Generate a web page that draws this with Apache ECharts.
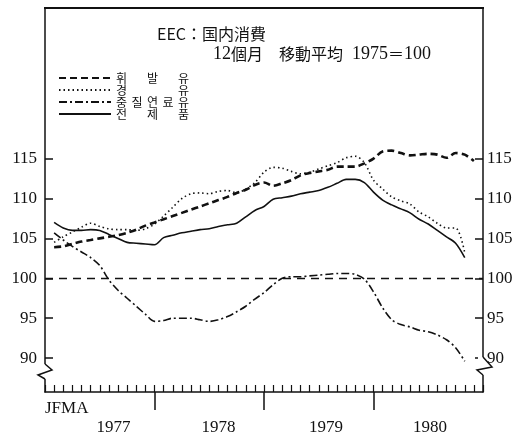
<!DOCTYPE html>
<html>
<head>
<meta charset="utf-8">
<script src="https://cdn.jsdelivr.net/npm/echarts@6/dist/echarts.min.js"></script>
<style>
html,body{margin:0;padding:0;background:#fff;}
#c{width:530px;height:437px;}
</style>
</head>
<body>
<div id="c"></div>
<script>
// ---- data (months counted from Jan 1977 = 0) ----
const startMonth = 1;
const gasoline = [103.9,104.0,104.3,104.6,104.8,105.0,105.2,105.4,105.7,106.1,106.6,107.0,
  107.4,107.8,108.2,108.6,109.0,109.4,109.8,110.2,110.7,111.1,111.7,112.0,
  111.6,111.9,112.3,112.9,113.2,113.4,113.6,114.0,114.0,114.0,114.4,115.0,
  115.9,116.0,115.7,115.4,115.5,115.6,115.5,115.1,115.7,115.5,114.7];
const diesel = [104.5,105.2,105.8,106.4,106.9,106.5,106.2,106.1,106.1,106.0,106.2,106.8,
  107.8,108.9,110.0,110.6,110.7,110.6,110.9,111.0,110.7,111.2,112.0,113.3,
  113.9,113.8,113.4,113.1,113.3,113.7,114.1,114.5,115.1,115.3,114.5,112.3,
  111.2,110.2,109.7,109.3,108.3,107.7,106.9,106.3,106.3,103.2];
const heavyFuel = [105.7,104.8,104.0,103.3,102.6,101.6,99.8,98.5,97.5,96.5,95.5,94.6,
  94.7,95.0,95.0,95.0,94.8,94.6,94.8,95.2,95.8,96.5,97.4,98.2,
  99.2,100.0,100.2,100.2,100.3,100.4,100.5,100.6,100.6,100.5,99.9,98.3,
  96.3,94.8,94.2,93.9,93.5,93.3,92.9,92.3,91.3,89.6];
const allProducts = [107.0,106.3,106.0,106.0,106.1,106.0,105.5,105.0,104.5,104.4,104.3,104.2,
  105.1,105.4,105.7,105.9,106.1,106.2,106.5,106.7,106.9,107.7,108.5,109.0,
  109.9,110.1,110.3,110.6,110.8,111.0,111.4,111.9,112.4,112.4,112.0,110.8,
  109.8,109.2,108.7,108.2,107.4,106.8,106.0,105.2,104.4,102.6];
const seriesNames = ['휘발유','경유','중질연료유','전제품'];
const yTickValues = [90,95,100,105,110,115];
const years = ['1977','1978','1979','1980'];
const yearLabelPos = [7.5, 19.0, 30.8, 42.2];
const yearTicks = [12, 24, 36];
const monthHint = 'JFMA';
const baseValue = 100;
const titleLine1 = 'EEC：国内消費';

function pairs(arr){ return arr.map((v,i)=>[startMonth+i, v]); }

const serif = '"Liberation Serif","Noto Sans CJK JP",serif';
const cjk = '"Noto Sans CJK JP","Liberation Serif",serif';
const kr = '"Noto Sans CJK KR",sans-serif';

const chart = echarts.init(document.getElementById('c'), null, {renderer:'canvas'});

const yCommon = {
  type:'value', min:85.75, max:133.875,
  splitLine:{show:false},
  axisLine:{show:true, onZero:false, lineStyle:{color:'#111', width:1.5}},
  axisTick:{show:true, inside:true, length:8, customValues:yTickValues, lineStyle:{color:'#111', width:1.5}},
  axisLabel:{show:true, customValues:yTickValues, color:'#111', fontSize:17, fontFamily:serif}
};

const legendRich = {
  c3:{width:31, fontSize:12, fontFamily:kr, color:'#111'},
  c2:{width:62, fontSize:12, fontFamily:kr, color:'#111'},
  c5:{width:15.5, fontSize:12, fontFamily:kr, color:'#111'},
  l:{fontSize:12, fontFamily:kr, color:'#111'}
};
function legendFmt(name){
  const ch = Array.from(name);
  const key = ch.length===2 ? 'c2' : (ch.length===3 ? 'c3' : 'c5');
  let s = '';
  ch.forEach((c,i)=>{ s += (i===ch.length-1) ? '{l|'+c+'}' : '{'+key+'|'+c+'}'; });
  return s;
}

const option = {
  backgroundColor:'#fff',
  animation:false,
  title:[
    {text:titleLine1, left:152, top:21,
     textStyle:{fontSize:16, fontWeight:'normal', color:'#111', fontFamily:cjk}},
    {text:'{n|12}{c|個月}{g1|}{c|移動平均}{g2|}{n|1975}{c|＝}{n|100}', left:208, top:40,
     textStyle:{fontWeight:'normal', color:'#111', rich:{
       n:{fontSize:18, fontFamily:serif, color:'#111'},
       c:{fontSize:16, fontFamily:cjk, color:'#111'},
       g1:{width:16}, g2:{width:9}}}}
  ],
  legend:{
    orient:'vertical', left:58, top:72, padding:0, itemWidth:52, itemHeight:10, itemGap:0,
    data:seriesNames,
    formatter:legendFmt,
    itemStyle:{opacity:0},
    textStyle:{rich:legendRich, lineHeight:12},
    selectedMode:false
  },
  grid:{left:45, right:47, top:8, bottom:45},
  xAxis:[
    {type:'value', min:0, max:48, interval:1, position:'bottom',
     splitLine:{show:false},
     axisLine:{show:true, onZero:false, lineStyle:{color:'#111', width:1.5}},
     axisTick:{show:true, inside:true, length:7, lineStyle:{color:'#111', width:1.2}},
     axisLabel:{show:false}},
    {type:'value', min:0, max:48, position:'bottom',
     splitLine:{show:false},
     axisLine:{show:false, onZero:false},
     axisTick:{show:true, length:18, customValues:yearTicks, lineStyle:{color:'#111', width:1.5}},
     axisLabel:{show:true, customValues:yearLabelPos, margin:27,
       formatter:(v)=>{ let k=0; yearLabelPos.forEach((p,i)=>{ if (Math.abs(p-v)<Math.abs(yearLabelPos[k]-v)) k=i; }); return years[k]; },
       color:'#111', fontSize:17, fontFamily:serif}},
    {type:'value', min:0, max:48, position:'bottom',
     splitLine:{show:false},
     axisLine:{show:false, onZero:false},
     axisTick:{show:false},
     axisLabel:{show:true, customValues:[0], margin:8, align:'left',
       formatter:()=>monthHint, color:'#111', fontSize:17, fontFamily:serif}}
  ],
  yAxis:[
    Object.assign({}, yCommon, {position:'left', axisLabel:Object.assign({}, yCommon.axisLabel, {margin:8})}),
    Object.assign({}, yCommon, {position:'right', axisLabel:Object.assign({}, yCommon.axisLabel, {margin:4})})
  ],
  series:[
    {name:seriesNames[0], type:'line', data:pairs(gasoline), symbol:'none', smooth:0.3,
     lineStyle:{color:'#111', width:2.6, type:[7,4]}, itemStyle:{color:'#111'}},
    {name:seriesNames[1], type:'line', data:pairs(diesel), symbol:'none', smooth:0.3,
     lineStyle:{color:'#111', width:1.6, type:[1.5,3]}, itemStyle:{color:'#111'}},
    {name:seriesNames[2], type:'line', data:pairs(heavyFuel), symbol:'none', smooth:0.3,
     lineStyle:{color:'#111', width:1.6, type:[8,3,2,3]}, itemStyle:{color:'#111'},
     markLine:{silent:true, symbol:'none', label:{show:false},
       lineStyle:{color:'#111', width:1.3, type:[8,6]},
       data:[{yAxis:baseValue}]}},
    {name:seriesNames[3], type:'line', data:pairs(allProducts), symbol:'none', smooth:0.3,
     lineStyle:{color:'#111', width:1.6, type:'solid'}, itemStyle:{color:'#111'}}
  ],
  graphic:[
    {type:'rect', z:100, shape:{x:44, y:7, width:440, height:2}, style:{fill:'#111'}},
    {type:'rect', z:100, shape:{x:40, y:364, width:10, height:15}, style:{fill:'#fff'}},
    {type:'polyline', z:101, shape:{points:[[45,364],[52,370],[38,375],[45,379]]}, style:{stroke:'#111', lineWidth:1.5, fill:null}},
    {type:'rect', z:100, shape:{x:478, y:357, width:10, height:18}, style:{fill:'#fff'}},
    {type:'polyline', z:101, shape:{points:[[483,357],[492,367],[477,370],[483,375]]}, style:{stroke:'#111', lineWidth:1.5, fill:null}}
  ]
};
chart.setOption(option);
</script>
</body>
</html>
